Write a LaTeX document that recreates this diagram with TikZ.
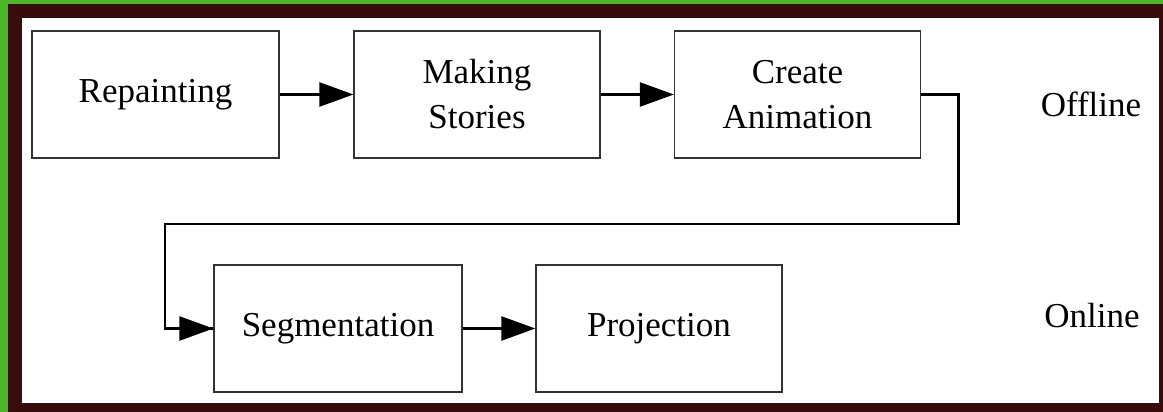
\documentclass[tikz,border=0pt]{standalone}
\usepackage{fontspec}
\setmainfont{Liberation Serif}
\usetikzlibrary{arrows.meta}
\definecolor{framegreen}{RGB}{74,182,38}
\definecolor{framebrown}{RGB}{56,12,10}
\begin{document}
\begin{tikzpicture}[x=1pt,y=-1pt,
  stepbox/.style={draw=black!80,line width=1.3pt,minimum width=247pt,minimum height=127pt,
    inner sep=0pt,align=center,font=\fontsize{35}{45}\selectfont},
  conn/.style={draw=black,line width=2.4pt,-{Triangle[length=34pt,width=24pt]}},
  plain/.style={draw=black,line width=2.4pt},
  tag/.style={anchor=base,inner sep=0pt,font=\fontsize{35}{45}\selectfont}]
\useasboundingbox (0,0) rectangle (1163,412);
\fill[framegreen] (0,0) rectangle (1163,412);
\fill[framebrown] (8,4) rectangle (1163,412);
\fill[white] (22,18) rectangle (1159,403);
\node[stepbox] (b1) at (155.5,94.5) {Repainting};
\node[stepbox,minimum width=246pt] (b2) at (477,94.5) {Making\\Stories};
\node[stepbox,minimum width=246pt] (b3) at (797.5,94.5) {Create\\Animation};
\node[stepbox,minimum width=248pt] (b4) at (338,328.5) {Segmentation};
\node[stepbox,minimum width=246pt] (b5) at (659,328.5) {Projection};
\node[tag] (off) at (1091,117) {Offline};
\node[tag] (on) at (1092,327) {Online};
\coordinate (c1) at (958.5,94.5);
\coordinate (c2) at (958.5,224);
\coordinate (c3) at (165,224);
\coordinate (c4) at (165,328.5);
\draw[conn] (b1) -- (b2);
\draw[conn] (b2) -- (b3);
\draw[plain,line join=miter] (b3.east) -- (c1) -- (c2) -- (c3) -- (c4) -- (c4 -| b4.west);
\draw[conn] (c4) -- (b4.west);
\draw[conn] (b4) -- (b5);
\end{tikzpicture}
\end{document}
